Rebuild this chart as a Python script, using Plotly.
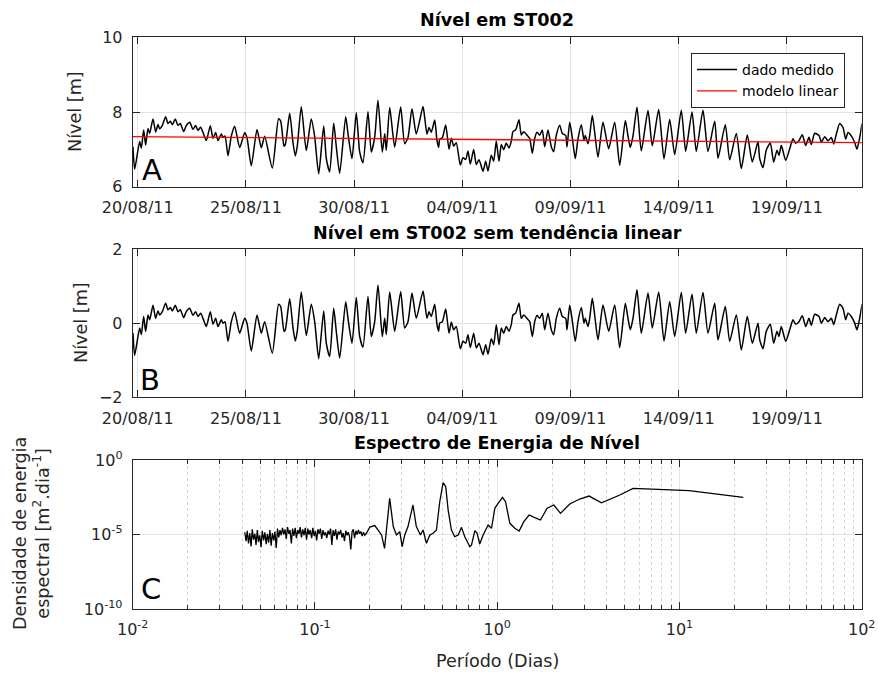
import numpy as np
import pandas as pd
import plotly.graph_objects as go

# ---------------- data ----------------
BASE_DATE = "2011-08-20 00:00"

# time (days after 20/08/11 00:00) and detrended level [m]
t_days = [
    -0.217, -0.140, 0.091, 0.168, 0.276, 0.368, 0.476, 0.553, 0.707, 0.830,
    0.938, 1.015, 1.138, 1.292, 1.400, 1.508, 1.600, 1.739, 1.862, 1.970,
    2.124, 2.247, 2.402, 2.555, 2.679, 2.786, 2.910, 3.017, 3.171, 3.356,
    3.480, 3.603, 3.711, 3.865, 3.942, 4.034, 4.173, 4.327, 4.481, 4.712,
    4.943, 5.050, 5.251, 5.513, 5.713, 5.867, 6.221, 6.510,
    6.608, 6.761, 6.822, 7.024, 7.177, 7.283, 7.375, 7.560, 7.791, 8.022,
    8.179, 8.364, 8.595, 8.715, 8.872, 9.057, 9.177, 9.334, 9.612, 9.718,
    9.903, 10.102, 10.259, 10.411, 10.642, 10.795, 10.952, 11.104, 11.303, 11.414,
    11.488, 11.645, 11.876, 12.153, 12.338, 12.491, 12.676, 12.874, 13.184,
    13.262, 13.369, 13.462, 13.568, 13.725, 13.831, 13.909, 13.956, 14.077, 14.233,
    14.386, 14.492, 14.603, 14.723, 14.908, 15.032, 15.157, 15.263, 15.370, 15.527,
    15.647, 15.772, 15.957, 16.081, 16.187, 16.340, 16.451, 16.571, 16.696, 16.802,
    16.913, 17.033, 17.158, 17.264, 17.342, 17.468, 17.620, 17.726, 17.837, 17.990,
    18.115, 18.235, 18.346, 18.452, 18.577, 18.697, 18.808, 18.960, 19.113, 19.224,
    19.344, 19.501, 19.621, 19.778, 19.838, 19.963,
    20.069, 20.222, 20.346, 20.499, 20.624, 20.684, 20.809, 20.887, 21.008, 21.118,
    21.271, 21.502, 21.765, 22.043, 22.274, 22.533, 22.657, 22.764, 22.889, 23.073,
    23.272, 23.582, 23.780, 24.076, 24.321, 24.584, 24.815, 25.120, 25.323, 25.615,
    25.813, 26.123, 26.354, 26.664,
    26.816, 27.154, 27.357, 27.662, 27.893, 28.170, 28.401, 28.665, 28.743, 28.896,
    29.048, 29.233, 29.390, 29.543, 29.635, 29.741, 29.945, 30.130, 30.282, 30.407,
    30.559, 30.712, 30.869, 31.021, 31.128, 31.285, 31.484, 31.590, 31.747, 31.900,
    32.052, 32.163, 32.283, 32.440, 32.593, 32.717, 32.823, 32.976, 33.133, 33.239,
    33.364, 33.470,
]
level_detrended = [
    -0.27, -0.87, -0.13, -0.31, 0.18, -0.22, 0.22, 0.09, 0.48, 0.13,
    0.33, 0.22, 0.31, 0.54, 0.36, 0.42, 0.33, 0.48, 0.31, 0.36,
    0.15, 0.31, 0.40, 0.21, 0.31, 0.18, 0.27, 0.13, -0.09, 0.31,
    -0.03, 0.13, -0.09, 0.09, 0.00, 0.04, -0.49, 0.04, 0.30, -0.27,
    0.13, 0.00, -0.75, 0.22, -0.27, 0.04, -0.81, 0.51,
    0.45, -0.22, -0.18, 0.66, -0.13, -0.48, -0.22, 0.84, -0.33, 0.51,
    0.04, -0.96, 0.33, -0.54, -0.90, 0.40, -0.22, -0.94, 0.58, 0.13,
    -0.54, 0.69, -0.36, -0.65, 0.72, -0.36, 0.04, 1.03, -0.36, 0.13,
    -0.31, 0.84, -0.22, 0.85, -0.13, 0.04, 0.81, 0.13, 0.87,
    0.58, 0.13, 0.31, 0.18, 0.51, -0.04, -0.22, 0.00, 0.04, 0.38,
    -0.27, 0.03, -0.18, -0.09, -0.69, -0.49, -0.54, -0.31, -0.66, -0.27,
    -0.67, -0.54, -0.85, -0.58, -0.84, -0.42, -0.58, -0.04, -0.58, -0.13,
    -0.27, -0.09, -0.22, -0.04, 0.22, 0.27, 0.54, 0.13, 0.22, 0.13,
    0.04, -0.36, 0.04, 0.21, 0.13, 0.27, -0.18, 0.27, -0.18, -0.31,
    0.13, 0.40, 0.18, 0.13, -0.18, 0.48,
    0.13, -0.49, 0.04, 0.42, 0.00, 0.13, -0.09, 0.13, 0.67, 0.22,
    -0.45, 0.49, -0.22, 0.49, -0.66, 0.54, 0.13, -0.18, 0.13, 0.90,
    -0.27, 0.81, -0.13, 0.84, -0.48, 0.58, -0.36, 0.83, -0.27, 0.78,
    -0.27, 0.83, -0.27, 0.54,
    -0.45, 0.45, -0.49, 0.22, -0.72, 0.18, -0.54, 0.00, -0.45, -0.69,
    -0.22, -0.03, -0.54, -0.22, -0.36, -0.09, -0.49, -0.18, 0.09, -0.03,
    0.04, 0.20, -0.09, 0.13, -0.06, 0.24, 0.18, 0.00, 0.15, 0.04,
    0.13, -0.04, 0.22, 0.51, 0.40, 0.09, 0.27, 0.18, 0.00, -0.18,
    0.13, 0.51,
]

# linear model (end points)
model_t_days = [-0.23, 33.47]
model_level = [7.34, 7.18]

# spectrum: period [days] and log10 of energy density
noise_period = [
    0.0412, 0.0419, 0.0425, 0.0432, 0.0439, 0.0446, 0.0453, 0.0460, 0.0468, 0.0475,
    0.0483, 0.0490, 0.0498, 0.0506, 0.0514, 0.0523, 0.0531, 0.0540, 0.0548, 0.0557,
    0.0566, 0.0575, 0.0584, 0.0594, 0.0603, 0.0613, 0.0623, 0.0633, 0.0643, 0.0653,
    0.0664, 0.0674, 0.0685, 0.0696, 0.0707, 0.0719, 0.0730, 0.0742, 0.0754, 0.0766,
    0.0779, 0.0791, 0.0804, 0.0817, 0.0830, 0.0843, 0.0857, 0.0871, 0.0885, 0.0899,
    0.0914, 0.0928, 0.0943, 0.0959, 0.0974, 0.0990, 0.1006, 0.1022, 0.1038, 0.1055,
    0.1072, 0.1089, 0.1107, 0.1125, 0.1143, 0.1161, 0.1180, 0.1199, 0.1218, 0.1238,
    0.1258, 0.1278, 0.1299, 0.1320, 0.1341, 0.1362, 0.1384, 0.1407, 0.1429, 0.1452,
    0.1476, 0.1500, 0.1524, 0.1548, 0.1573, 0.1599, 0.1624, 0.1650, 0.1677, 0.1704,
    0.1731, 0.1759, 0.1788, 0.1816, 0.1846, 0.1875,
]
noise_log_psd = [
    -4.85, -5.45, -4.75, -5.60, -4.90, -5.80, -4.65, -5.35, -4.95, -5.70,
    -4.70, -5.50, -5.05, -5.85, -4.75, -5.40, -4.85, -5.65, -4.95, -5.55,
    -4.70, -5.75, -4.90, -5.40, -4.80, -5.90, -4.60, -5.20, -4.70, -5.05,
    -4.55, -5.00, -4.65, -5.30, -4.50, -4.95, -4.70, -5.60, -4.60, -5.10,
    -4.55, -5.25, -4.70, -4.95, -4.50, -5.20, -4.65, -5.05, -4.55, -5.35,
    -4.60, -5.00, -4.70, -5.25, -4.55, -5.10, -4.75, -5.40, -4.65, -4.95,
    -4.60, -5.30, -4.70, -5.05, -4.85, -5.25, -4.75, -5.00, -4.60, -5.70,
    -4.70, -5.10, -4.65, -5.35, -4.80, -5.00, -4.70, -5.20, -4.90, -5.45,
    -4.75, -5.05, -4.85, -5.15, -6.00, -4.80, -4.65, -5.25, -4.75, -5.00,
    -4.70, -4.95, -4.80, -5.10, -4.85, -5.05,
]
tidal_period = [
    0.192, 0.200, 0.213, 0.222, 0.232, 0.241, 0.247, 0.257, 0.269, 0.280,
    0.292, 0.301, 0.311, 0.324, 0.345, 0.360, 0.379, 0.392, 0.409, 0.427,
    0.445, 0.464, 0.484, 0.505, 0.522, 0.538, 0.561, 0.585, 0.611, 0.637,
    0.664, 0.708, 0.723, 0.754, 0.776, 0.802, 0.837, 0.892, 0.931, 0.970,
    1.012, 1.069, 1.111, 1.173, 1.250, 1.319, 1.400, 1.497, 1.608, 1.728,
    1.879, 2.046, 2.225, 2.502, 2.838, 3.193, 3.733, 4.707, 5.571, 11.30,
    22.39,
]
tidal_log_psd = [
    -4.90, -4.50, -4.40, -4.70, -5.03, -5.93, -4.70, -2.57, -4.47, -5.03,
    -4.81, -5.82, -5.03, -4.47, -3.02, -4.47, -5.03, -4.70, -5.59, -5.03,
    -4.92, -4.70, -2.80, -1.52, -1.79, -3.36, -4.70, -5.15, -5.03, -4.52,
    -5.15, -5.82, -5.70, -4.74, -4.92, -5.64, -5.03, -4.36, -4.58, -3.24,
    -2.91, -2.51, -2.80, -4.25, -4.58, -4.77, -4.14, -3.69, -3.87, -4.03,
    -3.24, -3.02, -3.58, -2.95, -2.62, -2.42, -2.87, -2.35, -1.90, -2.06,
    -2.51,
]

date_ticks = ["2011-08-20", "2011-08-25", "2011-08-30", "2011-09-04",
              "2011-09-09", "2011-09-14", "2011-09-19"]
x_range = ["2011-08-19 18:28", "2011-09-22 10:58"]

for a, b in [(t_days, level_detrended), (noise_period, noise_log_psd),
             (tidal_period, tidal_log_psd)]:
    if len(a) != len(b):
        raise ValueError(f"length mismatch {len(a)} vs {len(b)}")

# ---------------- derived ----------------
base = pd.Timestamp(BASE_DATE)
t = base + pd.to_timedelta(np.array(t_days), unit="D")
t_model = base + pd.to_timedelta(np.array(model_t_days), unit="D")
trend = np.interp(t_days, model_t_days, model_level)
level_measured = np.array(level_detrended) + trend

period = np.array(noise_period + tidal_period)
psd = 10 ** np.array(noise_log_psd + tidal_log_psd)

# ---------------- figure ----------------
W, H = 878, 675
FONT = "DejaVu Sans"
DARK = "#262626"
GRID = "#e2e2e2"


def px(x):
    return x / W


def py(y):
    return 1 - y / H


XL, XR = 132.7, 861.7
dom_x = [px(XL), px(XR)]
dom_a = [py(186.7), py(37.3)]
dom_b = [py(397.3), py(249.0)]
dom_c = [py(609.0), py(460.0)]

fig = go.Figure()
fig.add_trace(go.Scatter(x=t, y=level_measured, mode="lines", name="dado medido",
                         line=dict(color="black", width=1.5, shape="spline", smoothing=0.6),
                         xaxis="x", yaxis="y"))
fig.add_trace(go.Scatter(x=t_model, y=model_level, mode="lines", name="modelo linear",
                         line=dict(color="#ff0000", width=1.3),
                         xaxis="x", yaxis="y"))
fig.add_trace(go.Scatter(x=t, y=level_detrended, mode="lines", showlegend=False,
                         line=dict(color="black", width=1.5, shape="spline", smoothing=0.6),
                         xaxis="x2", yaxis="y2"))
fig.add_trace(go.Scatter(x=period, y=psd, mode="lines", showlegend=False,
                         line=dict(color="black", width=1.3),
                         xaxis="x3", yaxis="y3"))

common = dict(showline=True, linecolor=DARK, linewidth=1, mirror="ticks",
              ticks="inside", ticklen=7, tickcolor=DARK, tickwidth=1,
              tickfont=dict(family=FONT, size=16, color=DARK),
              showgrid=True, gridcolor=GRID, gridwidth=1, zeroline=False,
              ticklabelstandoff=6, automargin=False)

date_axis = dict(common, type="date", range=x_range, tickmode="array",
                 tickvals=date_ticks, tickformat="%d/%m/%y", domain=dom_x)

minor_vals = [m * 10.0 ** e for e in range(-2, 2) for m in range(2, 10)]

fig.update_layout(
    width=W, height=H,
    margin=dict(l=0, r=0, t=0, b=0, autoexpand=False),
    paper_bgcolor="white", plot_bgcolor="white",
    font=dict(family=FONT, color=DARK),
    showlegend=True,
    legend=dict(x=px(845), y=py(53), xanchor="right", yanchor="top",
                xref="paper", yref="paper",
                bgcolor="white", bordercolor=DARK, borderwidth=1,
                font=dict(family=FONT, size=14, color="black"),
                tracegroupgap=0, itemwidth=40),
    xaxis=dict(date_axis, anchor="y"),
    yaxis=dict(common, range=[6, 10], tickvals=[6, 8, 10], domain=dom_a, anchor="x"),
    xaxis2=dict(date_axis, anchor="y2"),
    yaxis2=dict(common, range=[-2, 2], tickvals=[-2, 0, 2], domain=dom_b, anchor="x2"),
    xaxis3=dict(common, type="log", range=[-2, 2], domain=dom_x, anchor="y3",
                tickmode="array", tickvals=[0.01, 0.1, 1, 10, 100],
                ticktext=["10<sup>-2</sup>", "10<sup>-1</sup>", "10<sup>0</sup>",
                          "10<sup>1</sup>", "10<sup>2</sup>"],
                minor=dict(tickmode="array", tickvals=minor_vals, ticks="inside",
                           ticklen=4, tickcolor=DARK, showgrid=True,
                           gridcolor="#d2d2d2", griddash="dot", gridwidth=1)),
    yaxis3=dict(common, type="log", range=[-10, 0], domain=dom_c, anchor="x3",
                tickmode="array", tickvals=[1e-10, 1e-5, 1],
                ticktext=["10<sup>-10</sup>", "10<sup>-5</sup>", "10<sup>0</sup>"]),
)

ann = []
cx = (XL + XR) / 2
for text, y in [("Nível em ST002", 20), ("Nível em ST002 sem tendência linear", 233),
                ("Espectro de Energia de Nível", 443)]:
    ann.append(dict(text=f"<b>{text}</b>", x=px(cx), y=py(y), xref="paper", yref="paper",
                    showarrow=False, xanchor="center", yanchor="middle",
                    font=dict(family=FONT, size=17.6, color="black")))
for text, x, y in [("Nível [m]", 75, 112), ("Nível [m]", 81, 323)]:
    ann.append(dict(text=text, x=px(x), y=py(y), xref="paper", yref="paper",
                    showarrow=False, textangle=-90, xanchor="center", yanchor="middle",
                    font=dict(family=FONT, size=17.6, color=DARK)))
ann.append(dict(text="Densidade de energia<br>espectral [m<sup>2</sup>.dia<sup>-1</sup>]",
                x=px(31), y=py(534), xref="paper", yref="paper", showarrow=False,
                textangle=-90, xanchor="center", yanchor="middle",
                font=dict(family=FONT, size=17.6, color=DARK)))
ann.append(dict(text="Período (Dias)", x=px(cx), y=py(661), xref="paper", yref="paper",
                showarrow=False, xanchor="center", yanchor="middle",
                font=dict(family=FONT, size=17.6, color=DARK)))
for text, x, y in [("A", 152, 170), ("B", 150, 380), ("C", 151, 589)]:
    ann.append(dict(text=text, x=px(x), y=py(y), xref="paper", yref="paper",
                    showarrow=False, xanchor="center", yanchor="middle",
                    font=dict(family=FONT, size=29, color="black")))
fig.update_layout(annotations=ann)

fig.write_html("out.html",
               config={"displayModeBar": False},
               post_script="document.body.style.margin='0';"
                           "document.body.style.overflow='hidden';")
